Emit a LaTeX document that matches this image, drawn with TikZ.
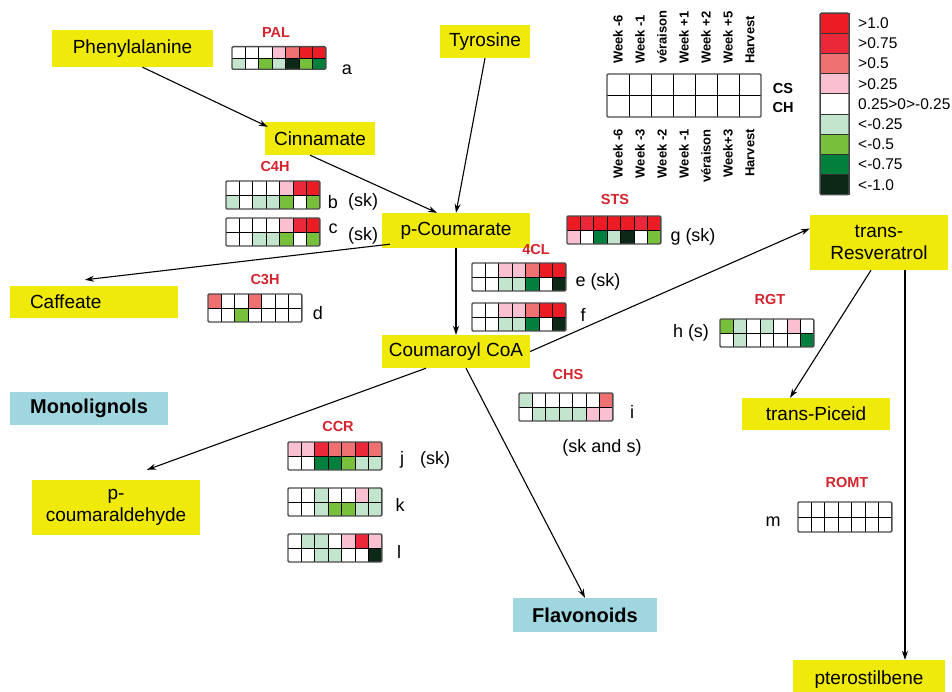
\documentclass[tikz,border=0pt]{standalone}
\usepackage{fontspec}
\setmainfont{Liberation Sans}
\usetikzlibrary{arrows.meta}

\definecolor{metabyellow}{RGB}{240,234,10}
\definecolor{pathblue}{RGB}{160,214,224}
\definecolor{genered}{RGB}{212,36,46}
\definecolor{up4}{RGB}{237,28,36}
\definecolor{up3}{RGB}{234,40,58}
\definecolor{up2}{RGB}{238,112,112}
\definecolor{up1}{RGB}{248,192,208}
\definecolor{nc}{RGB}{255,255,255}
\definecolor{dn1}{RGB}{195,228,205}
\definecolor{dn2}{RGB}{120,192,60}
\definecolor{dn3}{RGB}{0,128,60}
\definecolor{dn4}{RGB}{12,40,22}

% two rows of seven cells, #1 = row height, #2 = top left corner
\newcommand{\heatgrid}[4][14]{%
  \begin{scope}[shift={(#2)}]
    \foreach \c [count=\i from 0] in {#3}
      \fill[\c] (13.4*\i,0) rectangle ++(13.4,#1);
    \foreach \c [count=\i from 0] in {#4}
      \fill[\c] (13.4*\i,#1) rectangle ++(13.4,#1);
    \foreach \i in {1,...,6}
      \draw[black,line width=0.8] (13.4*\i,0) -- ++(0,2*#1);
    \draw[black,line width=0.8] (0,#1) -- ++(93.8,0);
    \draw[black!70,line width=1.4,rounded corners=1.2] (0,0) rectangle (93.8,2*#1);
  \end{scope}}

\begin{document}
\begin{tikzpicture}[x=1pt,y=-1pt,>={Stealth[length=9,width=6]},
    metab/.style={fill=metabyellow,inner sep=0pt,align=center,font=\fontsize{19}{22}\selectfont},
    pathway/.style={fill=pathblue,inner sep=0pt,font=\bfseries\fontsize{20}{22}\selectfont},
    gene/.style={text=genered,inner sep=0pt,font=\bfseries\fontsize{14.5}{16}\selectfont},
    tag/.style={inner sep=0pt,font=\fontsize{18}{20}\selectfont},
    weeklbl/.style={inner sep=0pt,rotate=90,font=\bfseries\fontsize{13}{14}\selectfont},
    legtext/.style={inner sep=0pt,anchor=west,font=\fontsize{15.5}{17}\selectfont}]
    \useasboundingbox (0,0) rectangle (952,692);
    \clip (0,0) rectangle (952,692);

    % metabolites
    \node[metab,minimum width=161,minimum height=37] (phe) at (132.5,48.5) {Phenylalanine};
    \node[metab,minimum width=90,minimum height=33] (tyr) at (485,41.5) {Tyrosine};
    \node[metab,minimum width=110,minimum height=33] (cin) at (320,138.5) {Cinnamate};
    \node[metab,minimum width=148,minimum height=35] (pcou) at (456,230.5) {p-Coumarate};
    \node[metab,minimum height=32,text width=128,inner xsep=20,align=left] (caf) at (94,302) {Caffeate};
    \node[metab,minimum width=138,minimum height=55] (tres) at (879,242.5) {trans-\\Resveratrol};
    \node[metab,minimum width=148,minimum height=33] (ccoa) at (456,351.5) {Coumaroyl CoA};
    \node[metab,minimum width=148,minimum height=32] (tpic) at (816,414) {trans-Piceid};
    \node[metab,minimum width=168,minimum height=55] (pcald) at (116,507.5) {p-\\coumaraldehyde};
    \node[metab,minimum width=152,minimum height=40] (pter) at (869,680) {pterostilbene};
    \node[pathway,minimum width=158,minimum height=33] (mono) at (89,408.5) {Monolignols};
    \node[pathway,minimum width=144,minimum height=34] (flav) at (585,615) {Flavonoids};

    % reactions
    \draw[->,line width=1.1] ([xshift=10]phe.south) -- ([xshift=3,yshift=-5]cin.north west);
    \draw[->,line width=1.1] (tyr.south) -- (pcou.north);
    \draw[->,line width=1.1] ([xshift=-10]cin.south) -- ([xshift=-19]pcou.north);
    \draw[->,line width=1.1] ([xshift=8,yshift=4]pcou.south west) -- ([xshift=-9,yshift=6]caf.north);
    \draw[->,line width=1.1] (pcou.south) -- (ccoa.north);
    \draw[->,line width=1.1] (ccoa.east) -- ([yshift=14]tres.west);
    \draw[->,line width=1.1] ([xshift=-30]ccoa.south) -- ([xshift=31,yshift=10]pcald.north);
    \draw[->,line width=1.1] ([xshift=10]ccoa.south) -- (flav.north);
    \draw[->,line width=1.1] ([xshift=-8]tres.south) -- ([xshift=-26]tpic.north);
    \draw[->,line width=1.1] ([xshift=26]tres.south) -- ([xshift=36]pter.north);

    % genes and expression grids
    \node[gene] (gPAL) at (276,33) {PAL};
    \heatgrid[11.3]{232,46.7}{nc,nc,nc,up1,up2,up4,up4}{dn1,nc,dn2,dn1,dn4,dn2,dn3}
    \node[tag] (tA) at (347,70) {a};

    \node[gene] (gC4H) at (275,166.5) {C4H};
    \heatgrid{226,181}{nc,nc,nc,nc,up1,up3,up4}{dn1,nc,dn1,dn1,dn2,nc,dn2}
    \node[tag] (tB) at (333,202) {b};
    \node[tag] (tBsk) at (363,202) {(sk)};
    \heatgrid{226,218}{nc,nc,nc,nc,up1,up3,up4}{nc,nc,dn1,dn1,dn2,nc,dn2}
    \node[tag] (tC) at (333,229) {c};
    \node[tag] (tCsk) at (363,236) {(sk)};

    \node[gene] (gSTS) at (615,200) {STS};
    \heatgrid{567,216}{up4,up3,up4,up4,up4,up3,up4}{up1,nc,dn3,dn1,dn4,nc,dn2}
    \node[tag] (tG) at (693,237) {g (sk)};

    \node[gene] (g4CL) at (536,250) {4CL};
    \heatgrid{472,263}{nc,nc,up1,up1,up2,up4,up4}{nc,nc,dn1,dn1,dn3,nc,dn4}
    \node[tag] (tE) at (598,282) {e (sk)};
    \heatgrid{472,303}{nc,nc,up1,up1,up2,up4,up4}{nc,nc,dn1,dn1,dn3,nc,dn4}
    \node[tag] (tF) at (583,315) {f};

    \node[gene] (gC3H) at (265,280) {C3H};
    \heatgrid{208,294}{up2,nc,nc,up2,nc,nc,nc}{nc,nc,dn2,nc,nc,nc,nc}
    \node[tag] (tD) at (318,313) {d};

    \node[gene] (gRGT) at (770,300) {RGT};
    \heatgrid{720,319}{dn2,dn1,nc,dn1,nc,up1,nc}{nc,dn1,nc,nc,nc,nc,dn3}
    \node[tag] (tH) at (691,333) {h (s)};

    \node[gene] (gCHS) at (568,375) {CHS};
    \heatgrid{519,393}{dn1,nc,nc,nc,nc,nc,up2}{nc,dn1,dn1,dn1,dn1,up1,up1}
    \node[tag] (tI) at (632,412) {i};
    \node[tag] (tIsk) at (602,448) {(sk and s)};

    \node[gene] (gCCR) at (338,427) {CCR};
    \heatgrid{288,442}{up1,up1,up3,up2,up2,up3,up2}{nc,nc,dn3,dn3,dn2,dn1,dn1}
    \node[tag] (tJ) at (402,460) {j};
    \node[tag] (tJsk) at (435,460) {(sk)};
    \heatgrid{288,488}{nc,nc,dn1,nc,nc,up1,dn1}{nc,nc,dn1,dn2,dn2,dn1,dn1}
    \node[tag] (tK) at (400,505) {k};
    \heatgrid{288,534}{nc,dn1,dn1,nc,up1,up3,up1}{nc,nc,dn1,dn1,nc,nc,dn4}
    \node[tag] (tL) at (399,552) {l};

    \node[gene] (gROMT) at (847,483) {ROMT};
    \heatgrid[15]{798,502}{nc,nc,nc,nc,nc,nc,nc}{nc,nc,nc,nc,nc,nc,nc}
    \node[tag] (tM) at (773,522) {m};

    % key: sampling times
    \begin{scope}[shift={(607,74)},xscale=1.642,yscale=1.536]
      \heatgrid{0,0}{nc,nc,nc,nc,nc,nc,nc}{nc,nc,nc,nc,nc,nc,nc}
    \end{scope}
    \foreach \t [count=\i from 0] in {Week -6,Week -1,véraison,Week +1,Week +2,Week +5,Harvest}
      \node[weeklbl,anchor=west] (wkCS\i) at (618+22*\i,64) {\t};
    \foreach \t [count=\i from 0] in {Week -6,Week -3,Week -2,Week -1,véraison,Week+3,Harvest}
      \node[weeklbl,anchor=east] (wkCH\i) at (618+22*\i,129) {\t};
    \node[inner sep=0pt,font=\bfseries\fontsize{14.5}{16}\selectfont] (kCS) at (783,89) {CS};
    \node[inner sep=0pt,font=\bfseries\fontsize{14.5}{16}\selectfont] (kCH) at (783,108) {CH};

    % key: colour scale
    \foreach \c [count=\i from 0] in {up4,up3,up2,up1,nc,dn1,dn2,dn3,dn4}
      \draw[black!80,line width=0.6,fill=\c] (820,13+20.2*\i) rectangle ++(29,20.2);
    \draw[black!70,line width=1.4,rounded corners=1.5] (820,13) rectangle (849,194.8);
    \foreach \t [count=\i from 0] in {>1.0,>0.75,>0.5,>0.25,0.25>0>-0.25,<-0.25,<-0.5,<-0.75,<-1.0}
      \node[legtext] (leg\i) at (858,23.1+20.2*\i) {\t};
\end{tikzpicture}
\end{document}
